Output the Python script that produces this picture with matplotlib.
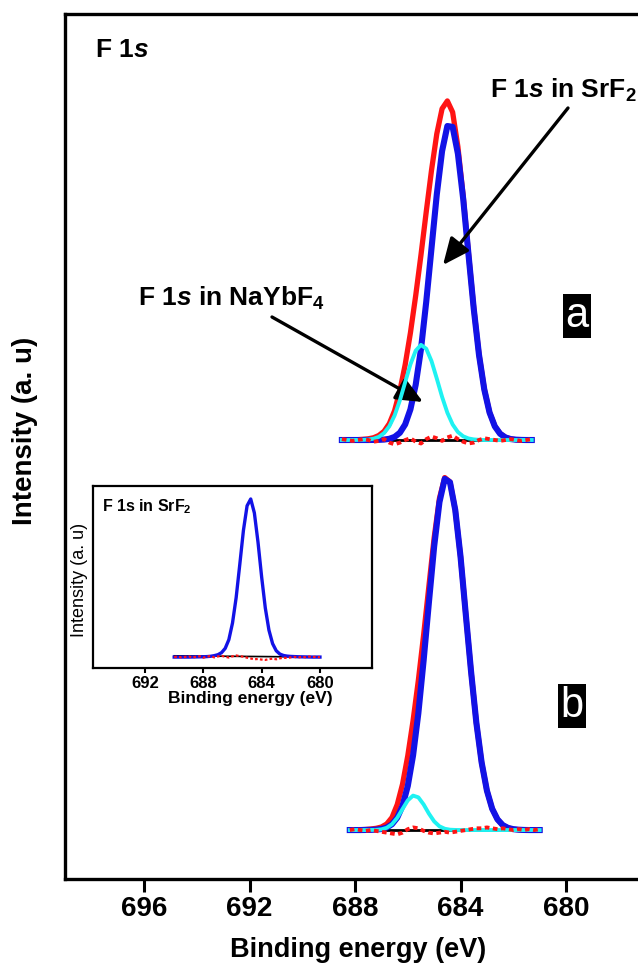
import numpy as np
import matplotlib.pyplot as plt

plt.rcParams['font.family'] = 'Liberation Sans'
plt.rcParams['mathtext.fontset'] = 'custom'
plt.rcParams['mathtext.rm'] = 'Liberation Sans:bold'
plt.rcParams['mathtext.it'] = 'Liberation Sans:italic:bold'
plt.rcParams['mathtext.bf'] = 'Liberation Sans:bold'

# ---- spectrum (a) ----
energy_a = [688.5, 688.3, 688.1, 687.9, 687.7, 687.5, 687.3, 687.1, 686.9, 686.7,
            686.5, 686.3, 686.1, 685.9, 685.7, 685.5, 685.3, 685.1, 684.9, 684.7,
            684.5, 684.3, 684.1, 683.9, 683.7, 683.5, 683.3, 683.1, 682.9, 682.7,
            682.5, 682.3, 682.1, 681.9, 681.7, 681.5, 681.3]
red_a = [0.0, 0.0, 0.02, 0.04, 0.08, 0.14, 0.26, 0.52, 1.0, 1.9,
         3.4, 5.7, 8.7, 12.4, 16.7, 21.4, 26.4, 31.2, 35.4, 38.3,
         39.2, 37.9, 33.9, 28.2, 21.6, 15.3, 9.9, 5.9, 3.2, 1.6,
         0.75, 0.32, 0.12, 0.04, 0.01, 0.0, 0.0]
blue_a = [0.0, 0.0, 0.0, 0.0, 0.0, 0.0, 0.01, 0.02, 0.05, 0.14,
          0.36, 0.84, 1.80, 3.55, 6.4, 10.5, 16.0, 22.2, 28.4, 33.4,
          36.3, 36.2, 33.1, 27.9, 21.5, 15.2, 9.85, 5.85, 3.18, 1.58,
          0.72, 0.30, 0.11, 0.04, 0.01, 0.0, 0.0]
cyan_a = [0.0, 0.0, 0.0, 0.01, 0.02, 0.05, 0.15, 0.36, 0.80, 1.59,
          2.84, 4.59, 6.67, 8.75, 10.33, 11.0, 10.55, 9.12, 7.10, 4.99,
          3.16, 1.80, 0.92, 0.43, 0.18, 0.07, 0.02, 0.0, 0.0, 0.0,
          0.0, 0.0, 0.0, 0.0, 0.0, 0.0, 0.0]
resid_a = [0.1, 0.0, -0.1, 0.0, 0.1, 0.0, -0.2, -0.1, 0.1, -0.3,
           -0.5, -0.3, 0.0, 0.2, -0.2, -0.4, 0.1, 0.4, 0.2, -0.1,
           0.3, 0.5, 0.1, -0.2, -0.4, -0.3, 0.0, 0.2, 0.1, 0.0,
           -0.1, 0.0, 0.1, 0.0, -0.1, 0.0, 0.1]
bg_a = [0.0, 0.0]

# ---- spectrum (b) ----
energy_b = [688.2, 688.0, 687.8, 687.6, 687.4, 687.2, 687.0, 686.8, 686.6, 686.4,
            686.2, 686.0, 685.8, 685.6, 685.4, 685.2, 685.0, 684.8, 684.6, 684.4,
            684.2, 684.0, 683.8, 683.6, 683.4, 683.2, 683.0, 682.8, 682.6, 682.4,
            682.2, 682.0, 681.8, 681.6, 681.4, 681.2, 681.0]
red_b = [0.0, 0.02, 0.04, 0.07, 0.12, 0.2, 0.35, 0.7, 1.45, 2.95,
         5.3, 8.6, 12.65, 17.3, 22.55, 28.2, 33.8, 38.35, 40.75, 40.25,
         37.0, 31.6, 24.9, 18.3, 12.4, 7.81, 4.56, 2.46, 1.24, 0.57,
         0.25, 0.10, 0.04, 0.01, 0.0, 0.0, 0.0]
blue_b = [0.0, 0.0, 0.0, 0.01, 0.02, 0.05, 0.12, 0.29, 0.67, 1.43,
          2.80, 5.10, 8.63, 13.5, 19.6, 26.3, 32.8, 37.9, 40.6, 40.2,
          37.0, 31.6, 24.9, 18.3, 12.4, 7.81, 4.56, 2.46, 1.24, 0.57,
          0.25, 0.10, 0.04, 0.01, 0.0, 0.0, 0.0]
cyan_b = [0.0, 0.0, 0.0, 0.0, 0.01, 0.02, 0.08, 0.26, 0.67, 1.41,
          2.43, 3.43, 3.98, 3.78, 2.96, 1.90, 1.00, 0.43, 0.15, 0.04,
          0.01, 0.0, 0.0, 0.0, 0.0, 0.0, 0.0, 0.0, 0.0, 0.0,
          0.0, 0.0, 0.0, 0.0, 0.0, 0.0, 0.0]
resid_b = [0.0, 0.1, 0.0, -0.1, 0.0, -0.1, -0.2, -0.3, -0.4, -0.5,
           -0.3, 0.1, 0.3, 0.2, -0.1, -0.3, -0.4, -0.3, -0.2, -0.3,
           -0.2, -0.1, 0.0, 0.1, 0.2, 0.2, 0.3, 0.2, 0.1, 0.2,
           0.1, 0.0, 0.1, 0.0, 0.1, 0.0, 0.1]
bg_b = [0.0, 0.0]

# ---- inset: F 1s in SrF2 ----
energy_in = [690.0, 689.75, 689.5, 689.25, 689.0, 688.75, 688.5, 688.25, 688.0, 687.75,
             687.5, 687.25, 687.0, 686.75, 686.5, 686.25, 686.0, 685.75, 685.5, 685.25,
             685.0, 684.75, 684.5, 684.25, 684.0, 683.75, 683.5, 683.25, 683.0, 682.75,
             682.5, 682.25, 682.0, 681.75, 681.5, 681.25, 681.0, 680.75, 680.5, 680.25,
             680.0]
blue_in = [0.0, 0.0, 0.0, 0.0, 0.0, 0.05, 0.1, 0.15, 0.2, 0.3,
           0.5, 0.9, 1.5, 2.8, 5.5, 11.0, 21.5, 37.5, 58.5, 80.0,
           95.5, 99.8, 91.0, 72.5, 50.5, 31.0, 17.0, 8.5, 4.0, 1.9,
           1.0, 0.6, 0.4, 0.3, 0.2, 0.15, 0.1, 0.05, 0.0, 0.0,
           0.0]
resid_in = [0.0, 0.3, -0.2, 0.1, 0.4, -0.3, 0.2, 0.5, -0.4, 0.3,
            0.6, -0.2, 0.4, 0.8, 0.2, -0.3, 0.5, 1.0, 0.6, 0.2,
            -0.4, -0.9, -1.4, -1.2, -1.6, -1.8, -1.3, -1.0, -1.4, -0.8,
            -0.4, -0.6, -0.2, 0.1, -0.3, 0.2, -0.1, 0.3, 0.0, 0.2,
            -0.1]
bg_in = [0.8, 0.0]

ticks_main = [696, 692, 688, 684, 680]
ticks_in = [692, 688, 684, 680]

RED = '#ff1414'
BLUE = '#1212e6'
CYAN = '#1ef2f2'

W, H = 638, 966


def fp(x, y):
    # image pixel -> figure fraction
    return x / W, 1 - y / H


def draw_spectrum(ax, e, red, blue, cyan, resid, bg, base):
    ax.plot(e, np.array(red) + base, color=RED, lw=3.8, zorder=2,
            solid_joinstyle='round')
    ax.plot(e, np.array(blue) + base, color=BLUE, lw=4.4, zorder=3,
            solid_joinstyle='round')
    ax.plot(e, np.array(cyan) + base, color=CYAN, lw=2.8, zorder=4,
            solid_joinstyle='round')
    ax.plot([e[0], e[-1]], np.array(bg) + base, color='black', lw=2.0, zorder=2.5)
    ax.plot(e, np.array(resid) + base, color=RED, lw=2.8, ls=(0, (1.2, 0.9)), zorder=5)


fig = plt.figure(figsize=(6.38, 9.66), dpi=100)
ax = fig.add_axes([65 / W, 1 - 879 / H, 1 - 65 / W, (879 - 14) / H])

draw_spectrum(ax, energy_a, red_a, blue_a, cyan_a, resid_a, bg_a, 50.75)
draw_spectrum(ax, energy_b, red_b, blue_b, cyan_b, resid_b, bg_b, 5.66)

ax.set_xlim(699.0, 677.27)
ax.set_ylim(0, 100)
ax.set_xticks(ticks_main)
ax.set_yticks([])
ax.tick_params(axis='x', direction='out', length=9, width=2.2, labelsize=20, pad=3)
for lbl in ax.get_xticklabels():
    lbl.set_fontweight('bold')
for side in ['left', 'top', 'bottom']:
    ax.spines[side].set_linewidth(2.4)
ax.spines['right'].set_visible(False)

# labels
fig.text(*fp(358, 957), 'Binding energy (eV)', fontsize=19.5, fontweight='bold',
         ha='center', va='baseline')
fig.text(*fp(25, 431), 'Intensity (a. u)', fontsize=20, fontweight='bold',
         rotation=90, ha='center', va='center')
fig.text(*fp(95, 50), 'F 1$s$', fontsize=19, fontweight='bold', ha='left', va='center')
fig.text(*fp(490, 90), 'F 1$s$ in SrF$_2$', fontsize=19, fontweight='bold',
         ha='left', va='center')
fig.text(*fp(138, 298), 'F 1$s$ in NaYbF$_4$', fontsize=19, fontweight='bold',
         ha='left', va='center')

arrow = dict(arrowstyle='-|>,head_length=0.9,head_width=0.4', color='black', lw=2.4,
             mutation_scale=18, shrinkA=0, shrinkB=0)
ax.annotate('', xy=(443, H - 265), xytext=(568, H - 108), xycoords='figure pixels',
            textcoords='figure pixels', arrowprops=arrow)
ax.annotate('', xy=(423, H - 402), xytext=(272, H - 317), xycoords='figure pixels',
            textcoords='figure pixels', arrowprops=arrow)

box = dict(boxstyle='square,pad=0.05', fc='black', ec='none')
fig.text(*fp(577, 316), 'a', color='white', fontsize=30, ha='center', va='center', bbox=box)
fig.text(*fp(572, 706), 'b', color='white', fontsize=30, ha='center', va='center', bbox=box)

# inset
axi = fig.add_axes([93 / W, 1 - 668 / H, 279 / W, 182 / H])
axi.plot(energy_in, blue_in, color=BLUE, lw=2.4, zorder=3, solid_joinstyle='round')
axi.plot([energy_in[0], energy_in[-1]], bg_in, color='black', lw=1.2, zorder=2)
axi.plot(energy_in, resid_in, color=RED, lw=1.6, ls=(0, (1.2, 1.0)), zorder=4)
axi.set_xlim(695.57, 676.43)
axi.set_ylim(-6.9, 108)
axi.set_xticks(ticks_in)
axi.set_yticks([])
axi.tick_params(axis='x', direction='out', length=3.5, width=1.5, labelsize=12, pad=2)
for lbl in axi.get_xticklabels():
    lbl.set_fontweight('bold')
for s in axi.spines.values():
    s.set_linewidth(1.6)

fig.text(*fp(102, 507), 'F 1s in SrF$_2$', fontsize=11.5, fontweight='bold',
         ha='left', va='center')
fig.text(*fp(80, 580), 'Intensity (a. u)', fontsize=13, rotation=90,
         ha='center', va='center')
fig.text(*fp(250, 703), 'Binding energy (eV)', fontsize=12.5, fontweight='bold',
         ha='center', va='baseline')

fig.savefig('out.png', dpi=100)
